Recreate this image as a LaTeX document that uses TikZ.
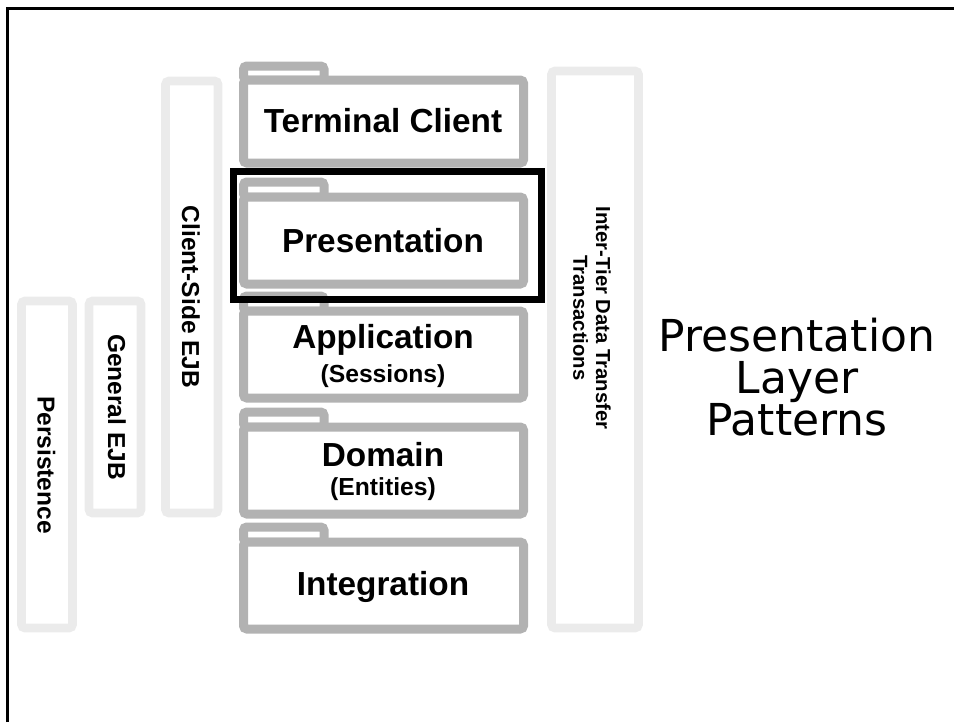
\documentclass[tikz,border=0pt]{standalone}
\usepackage{fontspec}
\setmainfont{Liberation Sans}
\newfontfamily\titlefont{DejaVu Sans}
\usepackage{xcolor}
\definecolor{foldergray}{RGB}{178,178,178}
\definecolor{bargray}{RGB}{235,235,235}

\begin{document}
\begin{tikzpicture}[x=0.75pt,y=0.75pt,yscale=-1,xscale=1]
		\useasboundingbox (0,0) rectangle (954,722);
		
		%Straight Lines: frame
		\draw [line width=2.25]    (7.5,722) -- (7.5,8) -- (954,8) ;
		
		%Shape: Rectangle (Persistence)
		\draw  [draw=bargray, line width=6.4, rounded corners=2.5] (21.5,301) rectangle (72.5,628) ;
		%Shape: Rectangle (General EJB)
		\draw  [draw=bargray, line width=6.4, rounded corners=2.5] (89,301) rectangle (141,513) ;
		%Shape: Rectangle (Client-Side EJB)
		\draw  [draw=bargray, line width=6.4, rounded corners=2.5] (165.5,81) rectangle (218,513) ;
		%Shape: Rectangle (Inter-Tier)
		\draw  [draw=bargray, line width=6.4, rounded corners=2.5] (551.5,71) rectangle (638.5,628) ;
		
		%Shape: Folder (Terminal Client)
		\draw  [draw=foldergray, line width=6.75, rounded corners=2.5] (243.5,66) rectangle (324,80) ;
		\draw  [draw=foldergray, fill=white, line width=6.75, rounded corners=2.5] (243.5,80) rectangle (523.5,163) ;
		%Shape: Folder (Presentation)
		\draw  [draw=foldergray, line width=6.75, rounded corners=2.5] (243.5,182) rectangle (324,197) ;
		\draw  [draw=foldergray, fill=white, line width=6.75, rounded corners=2.5] (243.5,197) rectangle (523.5,284) ;
		%Shape: Folder (Application)
		\draw  [draw=foldergray, line width=6.75, rounded corners=2.5] (243.5,296) rectangle (324,311) ;
		\draw  [draw=foldergray, fill=white, line width=6.75, rounded corners=2.5] (243.5,311) rectangle (523.5,398) ;
		%Shape: Folder (Domain)
		\draw  [draw=foldergray, line width=6.75, rounded corners=2.5] (243.5,412) rectangle (324,427) ;
		\draw  [draw=foldergray, fill=white, line width=6.75, rounded corners=2.5] (243.5,427) rectangle (523.5,514) ;
		%Shape: Folder (Integration)
		\draw  [draw=foldergray, line width=6.75, rounded corners=2.5] (243.5,527) rectangle (324,542) ;
		\draw  [draw=foldergray, fill=white, line width=6.75, rounded corners=2.5] (243.5,542) rectangle (523.5,629) ;
		
		%Shape: Rectangle (highlight)
		\draw  [line width=5.25] (233,171) rectangle (541,299) ;
		
		% Text Node
		\draw (383,132) node [anchor=base][inner sep=0.75pt]  [font=\bfseries\fontsize{25}{28}\selectfont] (terminal) {Terminal Client};
		% Text Node
		\draw (383,252) node [anchor=base][inner sep=0.75pt]  [font=\bfseries\fontsize{25}{28}\selectfont] (presentation) {Presentation};
		% Text Node
		\draw (383,348) node [anchor=base][inner sep=0.75pt]  [font=\bfseries\fontsize{25}{28}\selectfont] (application) {Application};
		% Text Node
		\draw (383,382) node [anchor=base][inner sep=0.75pt]  [font=\bfseries\fontsize{18.5}{22}\selectfont] (sessions) {(Sessions)};
		% Text Node
		\draw (383,466) node [anchor=base][inner sep=0.75pt]  [font=\bfseries\fontsize{25}{28}\selectfont] (domain) {Domain};
		% Text Node
		\draw (383,495) node [anchor=base][inner sep=0.75pt]  [font=\bfseries\fontsize{18.5}{22}\selectfont] (entities) {(Entities)};
		% Text Node
		\draw (383,595) node [anchor=base][inner sep=0.75pt]  [font=\bfseries\fontsize{25}{28}\selectfont] (integration) {Integration};
		
		% Text Node
		\draw (46.5,465) node [rotate=-90][inner sep=0.75pt]  [font=\bfseries\fontsize{18.4}{22}\selectfont] (persistence) {Persistence};
		% Text Node
		\draw (117,407) node [rotate=-90][inner sep=0.75pt]  [font=\bfseries\fontsize{18.4}{22}\selectfont] (generalejb) {General EJB};
		% Text Node
		\draw (191,297) node [rotate=-90][inner sep=0.75pt]  [font=\bfseries\fontsize{18.4}{22}\selectfont] (clientejb) {Client-Side EJB};
		% Text Node
		\draw (592,318) node [rotate=-90][inner sep=0.75pt]  [font=\bfseries\fontsize{15.2}{17}\selectfont, align=center] (intertier) {Inter-Tier Data Transfer\\Transactions};
		
		% Text Node
		\draw (797,377) node [inner sep=0.75pt]  [font=\titlefont\fontsize{33}{31.5}\selectfont, align=center] (title) {Presentation\\Layer\\Patterns};
		
		
\end{tikzpicture}
\end{document}
